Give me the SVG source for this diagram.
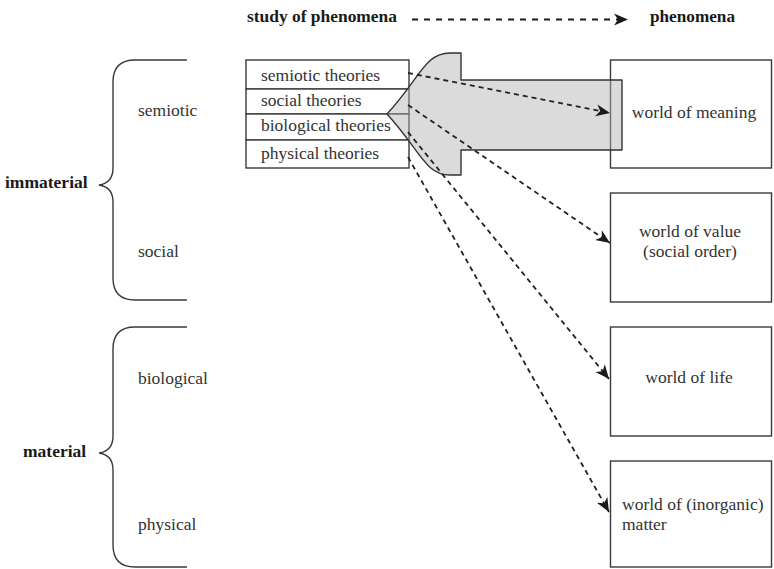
<svg xmlns="http://www.w3.org/2000/svg" width="774" height="569" viewBox="0 0 774 569">
  <style>
    text { font-family: "Liberation Serif", "Times New Roman", serif; font-size: 17.5px; fill: #333; }
    .bold { font-weight: bold; fill: #1a1a1a; }
    .box { fill: #fff; stroke: #3a3a3a; stroke-width: 1.4; }
    .brace { fill: none; stroke: #3a3a3a; stroke-width: 1.4; }
    .dash { fill: none; stroke: #222; stroke-width: 1.8; stroke-dasharray: 5 4; marker-end: url(#head); }
    .big-arrow { fill: #b0b0b0; fill-opacity: 0.45; stroke: #333; stroke-width: 1.4; stroke-linejoin: round; }
  </style>
  <defs>
    <marker id="head" markerUnits="userSpaceOnUse" markerWidth="18" markerHeight="16" viewBox="-16 -8 18 16" refX="0" refY="0" orient="auto">
      <path d="M0,0 L-14,-6 L-10,0 L-14,6 Z" fill="#1a1a1a"/>
    </marker>
  </defs>

  <!-- legend row -->
  <g id="legend">
    <text class="bold" x="247" y="22" font-size="16" textLength="150" lengthAdjust="spacingAndGlyphs">study of phenomena</text>
    <path d="M412,19.5 L628,19.5" fill="none" stroke="#1a1a1a" stroke-width="1.8" stroke-dasharray="6 6" marker-end="url(#head)"/>
    <text class="bold" x="650" y="22" font-size="16" textLength="85" lengthAdjust="spacingAndGlyphs">phenomena</text>
  </g>

  <!-- left braces -->
  <g id="immaterial">
    <path class="brace" d="M187,60 L135,60 Q113,60 113,82 L113,168 Q113,183 99,185 Q113,187 113,202 L113,278 Q113,300 135,300 L187,300"/>
    <text class="bold" x="5" y="188">immaterial</text>
    <text x="138" y="116">semiotic</text>
    <text x="138" y="257">social</text>
  </g>
  <g id="material">
    <path class="brace" d="M187,327 L135,327 Q113,327 113,349 L113,436 Q113,451 99,453 Q113,455 113,470 L113,545 Q113,567 135,567 L187,567"/>
    <text class="bold" x="23" y="457">material</text>
    <text x="138" y="384">biological</text>
    <text x="138" y="530">physical</text>
  </g>

  <!-- theory stack -->
  <g id="theories">
    <rect class="box" x="246" y="60" width="163" height="29"/>
    <rect class="box" x="246" y="89" width="163" height="25"/>
    <rect class="box" x="246" y="114" width="163" height="26"/>
    <rect class="box" x="246" y="140" width="163" height="28"/>
    <text x="261" y="81">semiotic theories</text>
    <text x="261" y="106">social theories</text>
    <text x="261" y="131">biological theories</text>
    <text x="261" y="159">physical theories</text>
  </g>

  <!-- phenomena boxes -->
  <g id="world-meaning">
    <rect class="box" x="610.5" y="60" width="161" height="108"/>
    <text x="694" y="118" text-anchor="middle">world of meaning</text>
  </g>
  <g id="world-value">
    <rect class="box" x="610.5" y="193" width="161" height="109"/>
    <text x="690" y="237" text-anchor="middle">world of value</text>
    <text x="690" y="257" text-anchor="middle">(social order)</text>
  </g>
  <g id="world-life">
    <rect class="box" x="610.5" y="327" width="161" height="109"/>
    <text x="689" y="383" text-anchor="middle">world of life</text>
  </g>
  <g id="world-matter">
    <rect class="box" x="610.5" y="461" width="161" height="106"/>
    <text x="622" y="510">world of (inorganic)</text>
    <text x="622" y="530">matter</text>
  </g>

  <!-- broad arrow from phenomena back to theory -->
  <g id="feedback-arrow">
    <path class="big-arrow" d="M387,114 C420,78 425,53 450,53 L461,53 L461,80 L622,80 L622,150 L461,150 L461,175 L450,175 C425,175 420,150 387,114 Z"/>
  </g>

  <!-- connectors -->
  <g id="connectors">
    <path class="dash" d="M408,73 L610,113"/>
    <path class="dash" d="M408,105 L610,243"/>
    <path class="dash" d="M408,132 L609,379"/>
    <path class="dash" d="M408,157 L609,512"/>
  </g>
</svg>
